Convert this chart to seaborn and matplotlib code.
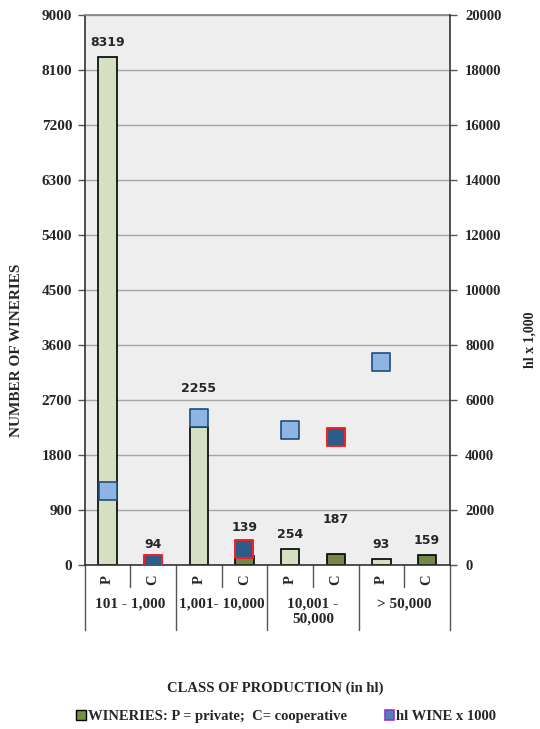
import numpy as np
import pandas as pd
import matplotlib
matplotlib.use("Agg")
import matplotlib.pyplot as plt
import matplotlib.transforms as mtransforms
from matplotlib.patches import Patch
import seaborn as sns

# ---- data ----
groups = ["101 - 1,000", "1,001- 10,000", "10,001 -\n50,000", "> 50,000"]
types = ["P", "C", "P", "C", "P", "C", "P", "C"]
bar_ids = ["P1", "C1", "P2", "C2", "P3", "C3", "P4", "C4"]
wineries = [8319, 94, 2255, 139, 254, 187, 93, 159]
hl_wine = [2700, 50, 5350, 580, 4900, 4650, 7380, np.nan]
left_ticks = [0, 900, 1800, 2700, 3600, 4500, 5400, 6300, 7200, 8100, 9000]
right_ticks = [0, 2000, 4000, 6000, 8000, 10000, 12000, 14000, 16000, 18000, 20000]

# style: label offsets above bars (points)
label_pad = [6, 6, 23, 16, 6, 20, 6, 6]

df = pd.DataFrame({"id": bar_ids, "type": types, "wineries": wineries, "hl": hl_wine})
df["pos"] = np.arange(len(df))

sns.set_theme(style="white")
plt.rcParams["font.family"] = ["Liberation Serif", "DejaVu Serif"]

fig = plt.figure(figsize=(5.4, 7.29), dpi=100)
ax = fig.add_axes([0.157, 0.225, 0.676, 0.754])
ax.set_facecolor("#eeeeee")

bar_pal = {"P": "#d7e4bd", "C": "#77933c"}
sns.barplot(data=df, x="id", y="wineries", hue="type", palette=bar_pal, order=bar_ids,
            dodge=False, width=0.4, edgecolor="black", linewidth=1.2, ax=ax, legend=False)
ax.set_ylim(0, 9000)
ax.set_xlim(-0.5, len(bar_ids) - 0.5)
ax.set_yticks(left_ticks)
ax.set_yticklabels([str(t) for t in left_ticks], fontsize=11, fontweight="bold")
ax.grid(axis="y", color="#a6a6a6", linewidth=1)
ax.set_axisbelow(True)
ax.tick_params(axis="y", which="both", left=True, length=5, width=1, color="#555555", pad=4)
ax.set_xticks([])
ax.set_xlabel("")
ax.set_ylabel("")
fig.text(0.03, 0.52, "NUMBER OF WINERIES", rotation=90, fontsize=11, fontweight="bold",
         ha="center", va="center")

# value labels, one per bar
bars = [p for cont in ax.containers for p in cont.patches if not np.isnan(p.get_height()) and p.get_height() > 0]
bars = sorted(bars, key=lambda p: p.get_x())
for p, v, pad in zip(bars, wineries, label_pad):
    ax.annotate(f"{v}", (p.get_x() + p.get_width() / 2, p.get_height()),
                xytext=(0, pad), textcoords="offset points", ha="center", va="bottom",
                fontsize=9, fontweight="bold", family="DejaVu Sans")

for s in ["left", "bottom"]:
    ax.spines[s].set_color("#333333")
    ax.spines[s].set_linewidth(1.2)
ax.spines["top"].set_color("#888888")
ax.spines["right"].set_visible(False)

# secondary axis
ax2 = ax.twinx()
ax2.set_ylim(0, 20000)
ax2.set_yticks(right_ticks)
ax2.set_yticklabels([str(t) for t in right_ticks], fontsize=10.5, fontweight="bold")
ax2.tick_params(axis="y", right=True, length=5, width=1, color="#555555", pad=6)
ax2.grid(False)
for s in ["left", "top", "bottom"]:
    ax2.spines[s].set_visible(False)
ax2.spines["right"].set_color("#333333")
ax2.spines["right"].set_linewidth(1.2)

pmask = df["type"] == "P"
sns.scatterplot(x=df.loc[pmask, "pos"], y=df.loc[pmask, "hl"], marker="s", s=150,
                color="#8db4e2", edgecolor="#1f4e79", linewidth=1.2, ax=ax2, zorder=5)
sns.scatterplot(x=df.loc[~pmask, "pos"], y=df.loc[~pmask, "hl"], marker="s", s=150,
                color="#2e5c8a", edgecolor="#ff1a1a", linewidth=1.4, ax=ax2, zorder=5)
ax2.set_xlim(-0.5, len(bar_ids) - 0.5)
ax2.set_xlabel("")
ax2.set_ylabel("")
fig.text(0.981, 0.534, "hl x 1,000", rotation=90, fontsize=10, fontweight="bold",
         ha="center", va="center")

# multi-level category axis
trans = mtransforms.blended_transform_factory(ax.transData, ax.transAxes)
line_kw = dict(color="#555555", linewidth=1, transform=trans, clip_on=False)
for i, t in enumerate(types):
    ax.text(i, -0.027, t, rotation=90, ha="center", va="center", fontsize=10.5,
            fontweight="bold", transform=trans)
for i in range(len(groups)):
    ax.plot([2 * i + 0.5, 2 * i + 0.5], [0, -0.04], **line_kw)
    ax.plot([2 * i - 0.5, 2 * i - 0.5], [0, -0.118], **line_kw)
    ax.text(2 * i + 0.5, -0.059, groups[i], ha="center", va="top", fontsize=11,
            fontweight="bold", transform=trans, linespacing=1.25)
ax.plot([7.5, 7.5], [0, -0.118], **line_kw)

fig.text(0.51, 0.056, "CLASS OF PRODUCTION (in hl)", ha="center", va="center",
         fontsize=10.5, fontweight="bold")

handles = [Patch(facecolor="#77933c", edgecolor="black", linewidth=1),
           Patch(facecolor="#4f81bd", edgecolor="#9933cc", linewidth=1.2)]
fig.legend(handles, ["WINERIES: P = private;  C= cooperative", "hl WINE x 1000"],
           loc="center", bbox_to_anchor=(0.53, 0.017), ncol=2, frameon=False,
           prop={"weight": "bold", "size": 10.5, "family": "Liberation Serif"},
           handlelength=0.65, handleheight=0.65, handletextpad=0.15, columnspacing=2.6)

fig.savefig("out.png", dpi=100)
